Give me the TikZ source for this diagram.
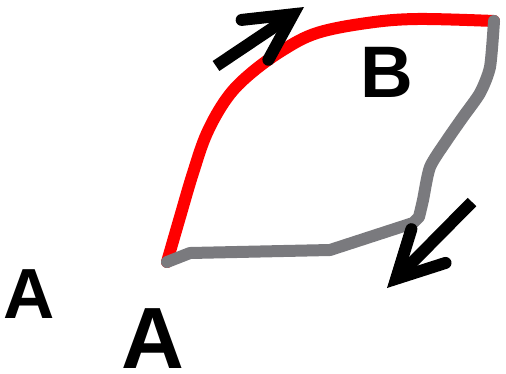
\documentclass[tikz,border=0pt]{standalone}
\usepackage{fontspec}
\setmainfont{Liberation Sans}
\usetikzlibrary{arrows.meta}
\tikzset{
  loopline/.style={line width=12pt,line cap=round,line join=round},
  bigarrow/.style={line width=12pt,-{Straight Barb[length=46pt,width=48pt,line cap=round,line join=miter]}},
  lbl/.style={inner sep=0,anchor=base,font=\bfseries}
}
\begin{document}
\begin{tikzpicture}[x=1pt,y=-1pt]
\useasboundingbox (0,0) rectangle (506,373);
\coordinate (start) at (167,262);
\coordinate (corner) at (494,21);
% red upper edge
\draw[loopline,red] plot[smooth,tension=0.6] coordinates {(start) (180,217) (193,173) (207,133) (227,98) (250,74) (283,50) (317,33) (367,23) (417,19) (corner)};
% grey lower edge
\draw[loopline,color={rgb,255:red,122;green,122;blue,126}] plot[smooth,tension=0.4] coordinates {(corner) (490,67) (480,93) (463,117) (447,140) (430,167) (423,200) (419,217)} -- (413,223) -- (330,250) -- (190,253) -- (start);
% arrows
\coordinate (up1) at (216,66);
\coordinate (up2) at (304,7);
\coordinate (dn1) at (472,202);
\coordinate (dn2) at (387,288);
\draw[bigarrow] (up1) -- (up2);
\draw[bigarrow] (dn1) -- (dn2);
% labels
\node[lbl] (lblA) at (29,318) {\fontsize{71}{71}\selectfont A};
\node[lbl] (lblAbig) at (153,368) {\fontsize{87}{87}\selectfont A};
\node[lbl] (lblB) at (387,97) {\fontsize{73}{73}\selectfont B};
\end{tikzpicture}
\end{document}
